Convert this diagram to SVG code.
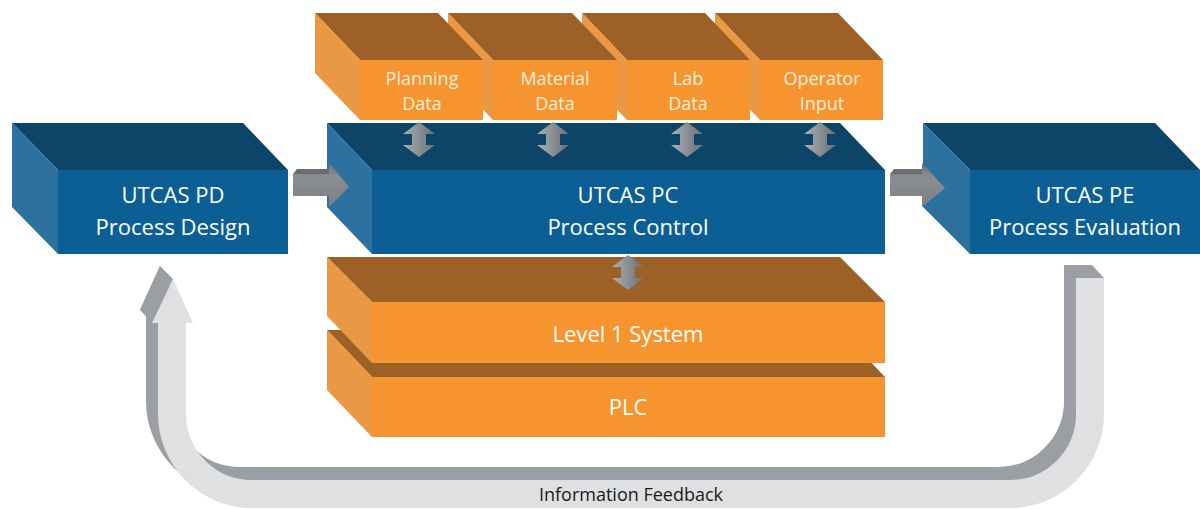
<svg xmlns="http://www.w3.org/2000/svg" width="1200" height="509" viewBox="0 0 1200 509">
<defs>
<style>
.bf{fill:#0b5f95}.bt{fill:#0c4568}.bs{fill:#2d71a0}
.of{fill:#f6942f}.ot{fill:#9d6127}.os{fill:#ea9844}
.tw{font-family:"Open Sans","Liberation Sans",sans-serif;fill:#ffffff;text-anchor:middle}
.to{font-family:"Open Sans","Liberation Sans",sans-serif;fill:#fdeedd;text-anchor:middle}
.fb{fill:none;stroke-width:28}
</style>
<linearGradient id="vg" x1="0" y1="0" x2="1" y2="0">
<stop offset="0" stop-color="#aab0b5"/><stop offset="0.5" stop-color="#8a8f94"/><stop offset="1" stop-color="#6c7075"/>
</linearGradient>
<linearGradient id="hg" x1="0" y1="0" x2="0" y2="1">
<stop offset="0" stop-color="#6a6e72"/><stop offset="0.3" stop-color="#8a8e92"/><stop offset="1" stop-color="#7c8084"/>
</linearGradient>
<path id="darrow" d="M0,0 L16,12 L7,12 L7,23 L16,23 L0,35 L-16,23 L-7,23 L-7,12 L-16,12 Z" fill="url(#vg)"/>
</defs>
<rect width="1200" height="509" fill="#ffffff"/>

<g id="feedback">
<path class="fb" stroke="#9b9fa3" d="M160,309 V401 A80,80 0 0 0 240,481 H998 A80,80 0 0 0 1078,401 V265"/>
<polygon fill="#9b9fa3" points="1064,265 1092,265 1104,278 1076,278"/>
<polygon fill="#9b9fa3" points="152,323 173,279 160,266 140,310"/>
<polygon fill="#9b9fa3" points="140,310 160,266 181,310"/>
<path class="fb" stroke="#dfe0e1" d="M172,322 V414 A80,80 0 0 0 252,494 H1010 A80,80 0 0 0 1090,414 V278"/>
<polygon fill="#dfe0e1" points="152,323 173,279 193,323"/>
<text class="tw" x="631" y="501" style="fill:#1a1a1a;font-size:18px">Information Feedback</text>
</g>

<g id="plc">
<polygon class="ot" points="327,330 840,330 885,377 372,377"/>
<polygon class="os" points="327,330 372,377 372,437 327,390"/>
<rect class="of" x="372" y="377" width="513" height="60"/>
<text class="tw" x="628" y="415" style="font-size:22px">PLC</text>
</g>

<g id="level1">
<polygon class="ot" points="327,257 840,257 885,302 372,302"/>
<polygon class="os" points="327,257 372,302 372,363 327,316"/>
<rect class="of" x="372" y="302" width="513" height="61"/>
<text class="tw" x="628" y="342" style="font-size:22px">Level 1 System</text>
</g>

<g id="pd">
<polygon class="bt" points="12,123 243,123 288,170 58,170"/>
<polygon class="bs" points="12,123 58,170 58,254 12,207"/>
<rect class="bf" x="58" y="170" width="230" height="84"/>
<text class="tw" x="173" y="203" style="font-size:22px">UTCAS PD</text>
<text class="tw" x="173" y="235" style="font-size:22px">Process Design</text>
</g>

<g id="pc">
<polygon class="bt" points="327,123 840,123 885,170 372,170"/>
<polygon class="bs" points="327,123 372,170 372,254 327,207"/>
<rect class="bf" x="372" y="170" width="513" height="84"/>
<text class="tw" x="628" y="203" style="font-size:22px">UTCAS PC</text>
<text class="tw" x="628" y="235" style="font-size:22px">Process Control</text>
</g>

<g id="pe">
<polygon class="bt" points="923,123 1155,123 1200,170 970,170"/>
<polygon class="bs" points="923,123 970,170 970,254 923,207"/>
<rect class="bf" x="970" y="170" width="230" height="84"/>
<text class="tw" x="1085" y="203" style="font-size:22px">UTCAS PE</text>
<text class="tw" x="1085" y="235" style="font-size:22px">Process Evaluation</text>
</g>

<g id="operator">
<polygon class="ot" points="715,13 838,13 883,60 760,60"/>
<polygon class="os" points="715,13 760,60 760,120 715,73"/>
<rect class="of" x="760" y="60" width="123" height="60"/>
<text class="to" x="822" y="85" style="font-size:18px">Operator</text>
<text class="to" x="822" y="110" style="font-size:18px">Input</text>
</g>

<g id="lab">
<polygon class="ot" points="582,13 705,13 750,60 627,60"/>
<polygon class="os" points="582,13 627,60 627,120 582,73"/>
<rect class="of" x="627" y="60" width="123" height="60"/>
<text class="to" x="688" y="85" style="font-size:18px">Lab</text>
<text class="to" x="688" y="110" style="font-size:18px">Data</text>
</g>

<g id="material">
<polygon class="ot" points="448,13 572,13 617,60 493,60"/>
<polygon class="os" points="448,13 493,60 493,120 448,73"/>
<rect class="of" x="493" y="60" width="124" height="60"/>
<text class="to" x="555" y="85" style="font-size:18px">Material</text>
<text class="to" x="555" y="110" style="font-size:18px">Data</text>
</g>

<g id="planning">
<polygon class="ot" points="315,13 438,13 483,60 360,60"/>
<polygon class="os" points="315,13 360,60 360,120 315,73"/>
<rect class="of" x="360" y="60" width="123" height="60"/>
<text class="to" x="422" y="85" style="font-size:18px">Planning</text>
<text class="to" x="422" y="110" style="font-size:18px">Data</text>
</g>

<g id="connectors">
<use href="#darrow" x="419" y="122"/>
<use href="#darrow" x="553" y="122"/>
<use href="#darrow" x="687" y="122"/>
<use href="#darrow" x="820" y="122"/>
<use href="#darrow" x="628" y="255"/>
<polygon fill="url(#hg)" points="293,174 329,174 329,163 349,187 329,207 329,196 293,196"/>
<polygon fill="#6a6e72" points="293,174 297,169 329,169 329,174"/>
<polygon fill="url(#hg)" points="890,174 922,174 922,163 945,188 922,207 922,196 890,196"/>
<polygon fill="#6a6e72" points="890,174 894,169 922,169 922,174"/>
</g>
</svg>
